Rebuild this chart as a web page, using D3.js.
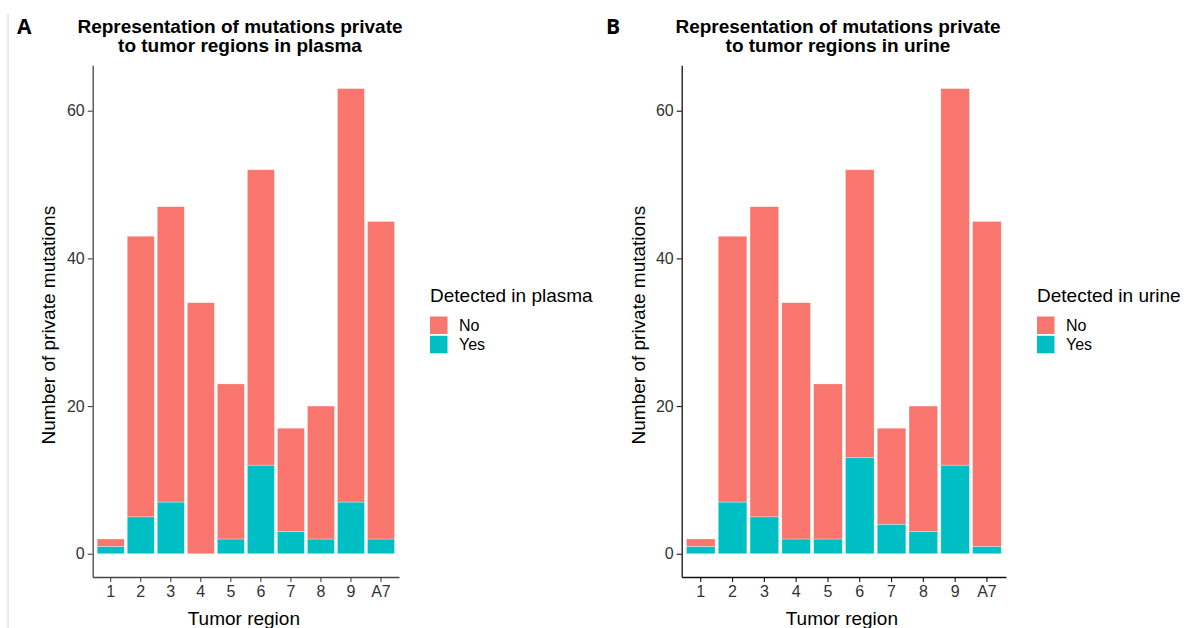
<!DOCTYPE html>
<meta charset="utf-8">
<style>
  body { margin: 0; background: #fff; }
  text { font-family: "Liberation Sans", Arial, sans-serif; }
</style>
<body>
<div id="chart"></div>
<script src="https://d3js.org/d3.v7.min.js"></script>
<script>

// data
var regions = ["1", "2", "3", "4", "5", "6", "7", "8", "9", "A7"];
var plasmaYes = [1, 5, 7, 0, 2, 12, 3, 2, 7, 2];
var plasmaNo  = [1, 38, 40, 34, 21, 40, 14, 18, 56, 43];
var urineYes  = [1, 7, 5, 2, 2, 13, 4, 3, 12, 1];
var urineNo   = [1, 36, 42, 32, 21, 39, 13, 17, 51, 44];
var yTicks = [0, 20, 40, 60];
var groups = ["No", "Yes"];

var color = d3.scaleOrdinal().domain(groups).range(["#F8766D", "#00BFC4"]);

var svg = d3.select("#chart")
  .append("svg")
    .attr("width", 1196)
    .attr("height", 628);

// thin grey line at the very left edge of the figure
svg.append("line")
  .attr("x1", 8).attr("x2", 8)
  .attr("y1", 14).attr("y2", 628)
  .attr("stroke", "#d0d0d0")
  .attr("stroke-width", 1);

var panels = [
  {letter: "A", letterX: 17, title: ["Representation of mutations private", "to tumor regions in plasma"],
   titleX: 240, x0: 92.7, x1: 399, yLabX: 55, yes: plasmaYes, no: plasmaNo,
   legendTitle: "Detected in plasma", legX: 430, axisColor: "#444"},
  {letter: "B", letterX: 606, title: ["Representation of mutations private", "to tumor regions in urine"],
   titleX: 838, x0: 681.7, x1: 1006, yLabX: 645, yes: urineYes, no: urineNo,
   legendTitle: "Detected in urine", legX: 1037, axisColor: "#111"}
];

var yTop = 65.3, yBottom = 577;

panels.forEach(function(p) {
  var g = svg.append("g");

  var x = d3.scaleBand()
    .domain(regions)
    .range([p.x0, p.x1])
    .paddingInner(0.1)
    .paddingOuter(0.15);

  var y = d3.scaleLinear()
    .domain([-3.15, 66.15])
    .range([yBottom, yTop]);

  var rows = regions.map(function(r, i) { return {region: r, No: p.no[i], Yes: p.yes[i]}; });
  // Yes at the bottom, No stacked on top
  var stacked = d3.stack().keys(["Yes", "No"])(rows);

  g.selectAll("g.layer")
    .data(stacked)
    .enter()
    .append("g")
      .attr("class", "layer")
      .attr("fill", function(d) { return color(d.key); })
    .selectAll("rect")
    .data(function(d) { return d; })
    .enter()
    .append("rect")
      .attr("x", function(d) { return x(d.data.region); })
      .attr("width", x.bandwidth())
      .attr("y", function(d) { return y(d[1]); })
      .attr("height", function(d) { return Math.max(0, y(d[0]) - y(d[1])); })
      .attr("stroke", "#ffffff")
      .attr("stroke-opacity", 0.5)
      .attr("stroke-width", 0.6);

  // axes
  var xAxis = g.append("g")
    .attr("transform", "translate(0," + yBottom + ")")
    .call(d3.axisBottom(x).tickSize(5).tickPadding(4).tickSizeOuter(0));
  var yAxis = g.append("g")
    .attr("transform", "translate(" + p.x0 + ",0)")
    .call(d3.axisLeft(y).tickValues(yTicks).tickSize(5).tickPadding(3).tickSizeOuter(0));

  [xAxis, yAxis].forEach(function(a) {
    a.attr("font-size", null).attr("font-family", null);
    a.select(".domain").attr("stroke", p.axisColor).attr("stroke-width", 1.3);
    a.selectAll(".tick line").attr("stroke", p.axisColor).attr("stroke-width", 1.1);
    a.selectAll(".tick text")
      .attr("fill", "#333")
      .style("font-size", "16px");
  });

  // axis titles
  g.append("text")
    .attr("x", (p.x0 + p.x1) / 2 - 2)
    .attr("y", 625)
    .attr("text-anchor", "middle")
    .style("font-size", "19px")
    .text("Tumor region");

  g.append("text")
    .attr("transform", "translate(" + p.yLabX + "," + ((yTop + yBottom) / 2 + 4) + ") rotate(-90)")
    .attr("text-anchor", "middle")
    .style("font-size", "19px")
    .text("Number of private mutations");

  // panel title
  g.selectAll("text.title")
    .data(p.title)
    .enter()
    .append("text")
      .attr("class", "title")
      .attr("x", p.titleX)
      .attr("y", function(d, i) { return 33 + i * 19; })
      .attr("text-anchor", "middle")
      .style("font-size", "19px")
      .style("font-weight", "bold")
      .text(function(d) { return d; });

  g.append("text")
    .attr("x", p.letterX)
    .attr("y", 34)
    .style("font-family", "'Open Sans', sans-serif")
    .style("font-size", "21px")
    .style("font-weight", "bold")
    .text(p.letter);

  // legend
  var legend = g.append("g");
  legend.append("text")
    .attr("x", p.legX)
    .attr("y", 302)
    .style("font-size", "19px")
    .text(p.legendTitle);

  var keys = legend.selectAll("g.key")
    .data(groups)
    .enter()
    .append("g")
      .attr("class", "key")
      .attr("transform", function(d, i) { return "translate(" + p.legX + "," + (316.5 + i * 19.3) + ")"; });
  keys.append("rect")
    .attr("width", 17.5)
    .attr("height", 17.5)
    .attr("fill", function(d) { return color(d); });
  keys.append("text")
    .attr("x", 29)
    .attr("y", 9)
    .attr("dy", "0.35em")
    .style("font-size", "16px")
    .text(function(d) { return d; });
});

</script>
</body>
